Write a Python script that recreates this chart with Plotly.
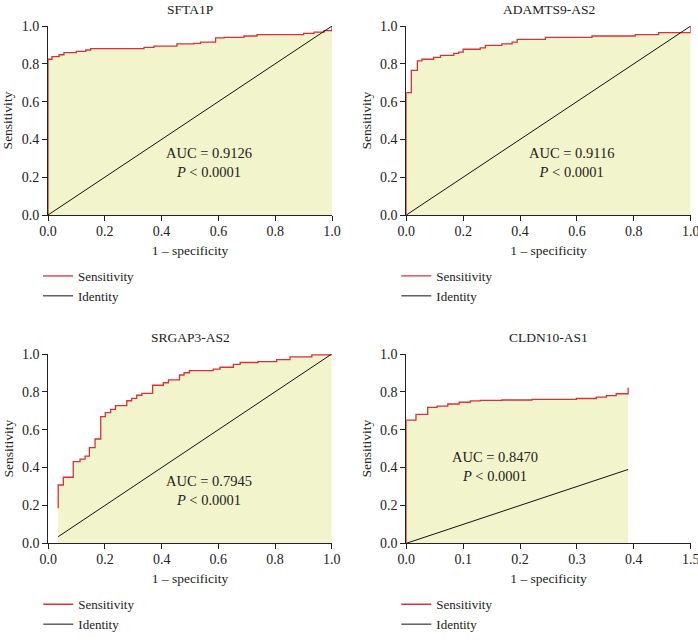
import plotly.graph_objects as go

# ---- data ----
titles = ["SFTA1P", "ADAMTS9-AS2", "SRGAP3-AS2", "CLDN10-AS1"]
auc_labels = ["0.9126", "0.9116", "0.7945", "0.8470"]

sfta1p_x = [0, 0, 0.014, 0.039, 0.056, 0.10, 0.133, 0.15, 0.338, 0.373, 0.454, 0.514, 0.537,
            0.59, 0.62, 0.69, 0.736, 0.90, 0.937, 0.972, 1.0, 1.0]
sfta1p_y = [0, 0.824, 0.838, 0.848, 0.859, 0.866, 0.873, 0.88, 0.887, 0.894, 0.905, 0.908, 0.915,
            0.937, 0.94, 0.947, 0.954, 0.961, 0.968, 0.975, 0.975, 1.0]

adamts_x = [0, 0, 0.0176, 0.039, 0.055, 0.096, 0.12, 0.167, 0.184, 0.20, 0.26, 0.278, 0.336,
            0.372, 0.39, 0.489, 0.653, 0.805, 0.887, 1.0, 1.0]
adamts_y = [0, 0.647, 0.765, 0.816, 0.824, 0.834, 0.845, 0.855, 0.862, 0.877, 0.884, 0.898, 0.905,
            0.915, 0.929, 0.94, 0.947, 0.954, 0.965, 0.965, 1.0]

srgap_x = [0.035, 0.035, 0.053, 0.088, 0.112, 0.13, 0.145, 0.165, 0.185, 0.201, 0.22, 0.237, 0.277,
           0.294, 0.312, 0.33, 0.368, 0.406, 0.424, 0.463, 0.479, 0.498, 0.582, 0.606, 0.653,
           0.677, 0.74, 0.806, 0.853, 0.93, 1.0]
srgap_y = [0.185, 0.308, 0.349, 0.431, 0.445, 0.461, 0.505, 0.551, 0.669, 0.69, 0.708, 0.727, 0.753,
           0.766, 0.782, 0.792, 0.835, 0.848, 0.863, 0.889, 0.901, 0.912, 0.92, 0.93, 0.945,
           0.955, 0.96, 0.97, 0.985, 0.995, 1.0]

cldn_x = [0, 0, 0.017, 0.0376, 0.054, 0.073, 0.093, 0.1125, 0.13, 0.168, 0.221, 0.299, 0.334,
          0.352, 0.369, 0.39, 0.39]
cldn_y = [0, 0.651, 0.681, 0.718, 0.725, 0.736, 0.745, 0.752, 0.755, 0.757, 0.76, 0.765, 0.772,
          0.78, 0.79, 0.79, 0.822]

identity_x = [[0, 1], [0, 1], [0.035, 1], [0, 0.39]]

x_tickvals = [[0, 0.2, 0.4, 0.6, 0.8, 1.0]] * 3 + [[0, 0.1, 0.2, 0.3, 0.4, 0.5]]
x_ticktext = [["0.0", "0.2", "0.4", "0.6", "0.8", "1.0"]] * 3 + [["0.0", "0.1", "0.2", "0.3", "0.4", "1.5"]]
x_ranges = [[0, 1], [0, 1], [0, 1], [0, 0.5]]
y_tickvals = [0, 0.2, 0.4, 0.6, 0.8, 1.0]
y_ticktext = ["0.0", "0.2", "0.4", "0.6", "0.8", "1.0"]

auc_pos = [(0.567, 0.276), (0.581, 0.276), (0.567, 0.278), (0.156, 0.408)]

# ---- layout geometry (pixels -> paper) ----
W, H = 698, 642
FONT = "Liberation Serif"
RED = "#d8313b"
FILL = "#f2f4cb"
TXT = "#222"

xdoms = [(48, 332), (406.3, 690.7), (48.3, 331.7), (406.3, 690.7)]
ydoms = [(26, 215), (26, 215), (354, 543.3), (354, 543.3)]

rocs = [(sfta1p_x, sfta1p_y), (adamts_x, adamts_y), (srgap_x, srgap_y), (cldn_x, cldn_y)]

fig = go.Figure()
layout = dict(
    width=W, height=H, margin=dict(l=0, r=0, t=0, b=0, autoexpand=False),
    paper_bgcolor="white", plot_bgcolor="white",
    font=dict(family=FONT, size=13, color=TXT),
    annotations=[],
)

for i in range(4):
    k = "" if i == 0 else str(i + 1)
    xa, ya = "x" + k, "y" + k
    lg = "legend" + k
    rx, ry = rocs[i]
    # area under the curve (not in legend)
    fig.add_trace(go.Scatter(
        x=rx, y=ry, mode="lines", line=dict(width=0, shape="hv"),
        fill="tozeroy", fillcolor=FILL, showlegend=False,
        xaxis=xa, yaxis=ya, hoverinfo="skip"))
    fig.add_trace(go.Scatter(
        x=rx, y=ry, mode="lines", line=dict(color=RED, width=1.3, shape="hv"),
        name="Sensitivity", xaxis=xa, yaxis=ya, legend=lg, hoverinfo="skip"))
    fig.add_trace(go.Scatter(
        x=identity_x[i], y=identity_x[i], mode="lines", line=dict(color="#111", width=1),
        name="Identity", xaxis=xa, yaxis=ya, legend=lg, hoverinfo="skip"))

    x0, x1 = xdoms[i]
    y0, y1 = ydoms[i]
    layout["xaxis" + k] = dict(
        domain=[x0 / W, x1 / W], anchor=ya, range=x_ranges[i],
        tickvals=x_tickvals[i], ticktext=x_ticktext[i], automargin=False,
        ticklabeloverflow="allow", ticklabelstandoff=-2,
        showline=True, linecolor=TXT, linewidth=1, ticks="outside", ticklen=5,
        tickcolor=TXT, showgrid=False, zeroline=False,
        tickfont=dict(family=FONT, size=14, color=TXT),
        title=dict(text="1 – specificity", font=dict(family=FONT, size=13.5), standoff=7))
    layout["yaxis" + k] = dict(
        domain=[1 - y1 / H, 1 - y0 / H], anchor=xa, range=[0, 1],
        tickvals=y_tickvals, ticktext=y_ticktext, automargin=False,
        ticklabeloverflow="allow",
        showline=True, linecolor=TXT, linewidth=1, ticks="outside", ticklen=5,
        tickcolor=TXT, showgrid=False, zeroline=False,
        tickfont=dict(family=FONT, size=14, color=TXT),
        title=dict(text="Sensitivity", font=dict(family=FONT, size=13.5), standoff=5))
    layout[lg] = dict(
        x=(x0 - 10) / W, y=1 - (y1 + 46) / H, xanchor="left", yanchor="top",
        bgcolor="rgba(0,0,0,0)", font=dict(family=FONT, size=13, color=TXT),
        tracegroupgap=0, itemwidth=30)
    # panel title
    layout["annotations"].append(dict(
        text=titles[i], x=(x0 + x1) / 2 / W, y=1 - max(y0 - 26, 0) / H, xref="paper", yref="paper",
        showarrow=False, font=dict(family=FONT, size=13.5, color=TXT),
        xanchor="center", yanchor="top"))
    ax, ay = auc_pos[i]
    layout["annotations"].append(dict(
        text="AUC = " + auc_labels[i] + "<br><i>P</i> < 0.0001", x=ax, y=ay,
        xref=xa, yref=ya, showarrow=False, align="center",
        font=dict(family=FONT, size=14.5, color=TXT), xanchor="center", yanchor="middle"))

fig.update_layout(**layout)
fig.write_html("out.html", config={"displayModeBar": False},
               post_script="document.body.style.margin='0';")
